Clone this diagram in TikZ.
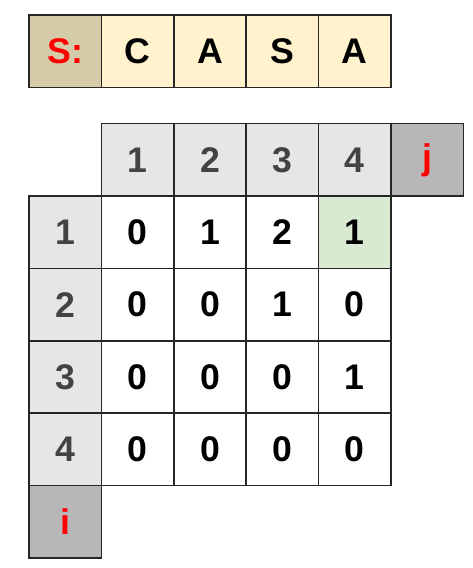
\documentclass[tikz,border=0pt]{standalone}
\usepackage{fontspec}
\setmainfont{Liberation Sans}
\definecolor{tan}{RGB}{214,203,168}
\definecolor{pale}{RGB}{255,242,204}
\definecolor{hdr}{RGB}{230,230,230}
\definecolor{dark}{RGB}{183,183,183}
\definecolor{mint}{RGB}{217,234,211}
\definecolor{txtgray}{RGB}{67,67,67}
\tikzset{
  cell/.style={draw=black!85, line width=1pt, minimum size=1.5cm, inner sep=0pt,
    font=\fontsize{21}{25}\selectfont\bfseries},
  letter/.style={cell, fill=pale},
  head/.style={cell, fill=hdr, text=txtgray},
  axis/.style={cell, fill=dark, text=red}
}
\begin{document}
\begin{tikzpicture}[x=1.5cm, y=1.5cm]
        \useasboundingbox (0, 0) rectangle (6.52, -7.845);
        % the string
        \node[cell, fill=tan, text=red] (S0) at (.9, -.707) {S:};
        \foreach \ch [count=\k] in {C, A, S, A}
            \node[letter] (S\k) at (.9+\k, -.707) {\ch};
        % column and row headers
        \foreach \k in {1, ..., 4} {
            \node[head] (h\k) at (.9+\k, -2.207) {\k};
            \node[head] (r\k) at (.9, -2.207-\k) {\k};
        }
        \node[axis] (J) at (5.9, -2.207) {j};
        \node[axis] (I) at (.9, -7.207) {i};
        % the table
        \foreach \row [count=\i] in {{0,1,2,1}, {0,0,1,0}, {0,0,0,1}, {0,0,0,0}}
            \foreach \v [count=\j] in \row
                \node[cell] (c\i\j) at (.9+\j, -2.207-\i) {\v};
        \node[cell, fill=mint] at (c14) {1};
    \end{tikzpicture}
\end{document}
